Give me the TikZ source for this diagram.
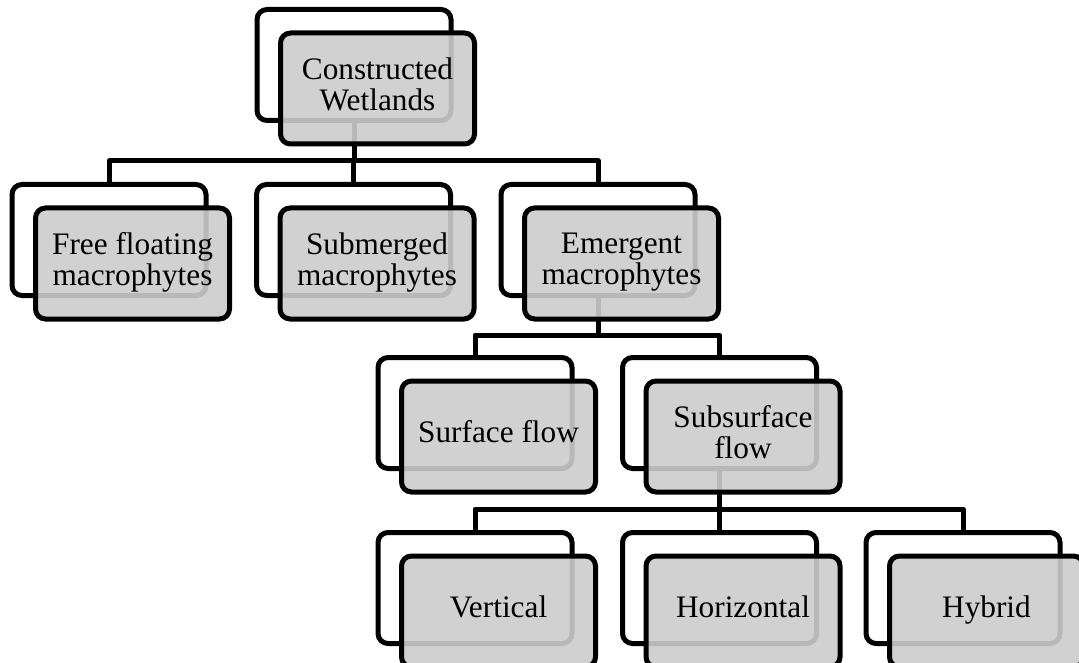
\documentclass[tikz,border=0pt]{standalone}
\usepackage{fontspec}
\setmainfont{Liberation Serif}
\pgfdeclarelayer{background}
\pgfsetlayers{background,main}
\tikzset{
  x=1pt, y=-1pt,
  boxline/.style={line width=5pt, rounded corners=10pt},
  backbox/.style={boxline, draw=black, fill=white, minimum width=194pt, minimum height=111pt, inner sep=0pt, anchor=north},
  frontbox/.style={boxline, draw=black, fill=black!20, fill opacity=0.9, text opacity=1,
    minimum width=194pt, minimum height=111pt, inner sep=0pt, anchor=north west,
    align=center, font=\fontsize{31.3}{31}\selectfont,
    execute at begin node=\strut, execute at end node=\strut},
  conn/.style={line width=5pt, draw=black, line join=round},
}
% a pair of stacked boxes: name, centre x and top y of the back box, label
\newcommand\stackbox[4]{%
  \node[backbox] (#1b) at (#2,#3) {};
  \node[frontbox] (#1) at ([xshift=23.5pt,yshift=-23.5pt]#1b.north west) {#4};
}
\begin{document}
\begin{tikzpicture}
\useasboundingbox (0,0) rectangle (1079,663);
\clip (0,0) rectangle (1079,663);

% level 1
\stackbox{cw}{354}{7}{Constructed\\Wetlands}
% level 2
\stackbox{ff}{109}{182}{Free floating\\macrophytes}
\stackbox{sm}{353.5}{182}{Submerged\\macrophytes}
\stackbox{em}{598}{182}{Emergent\\macrophytes}
% level 3
\stackbox{sf}{475}{355}{Surface flow}
\stackbox{ss}{719.5}{355}{Subsurface\\flow}
% level 4
\stackbox{ve}{475}{530}{Vertical}
\stackbox{ho}{719.5}{530}{Horizontal}
\stackbox{hy}{963}{530}{Hybrid}

% bus levels
\coordinate (busA) at (0,161);
\coordinate (busB) at (0,335);
\coordinate (busC) at (0,509);

\begin{pgfonlayer}{background}
  \foreach \c in {ffb,smb,emb}
    \draw[conn] (cwb.south) -- (cwb.south |- busA) -| (\c.north);
  \foreach \c in {sfb,ssb}
    \draw[conn] (emb.south) -- (emb.south |- busB) -| (\c.north);
  \foreach \c in {veb,hob,hyb}
    \draw[conn] (ssb.south) -- (ssb.south |- busC) -| (\c.north);
\end{pgfonlayer}
\end{tikzpicture}
\end{document}
